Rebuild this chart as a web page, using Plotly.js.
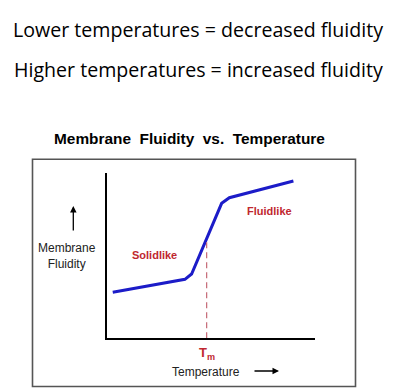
<!DOCTYPE html>
<html>
<head>
<meta charset="utf-8">
<script src="https://cdn.plot.ly/plotly-3.0.1.min.js"></script>
<style>html,body{margin:0;padding:0;background:#fff;}#chart{width:404px;height:391px;}</style>
</head>
<body>
<div id="chart"></div>
<script>
// Data (arbitrary units, 0-100 on both axes)
const curveTemp = [2.9, 37.5, 40.7, 55.1, 58.8, 89.5];
const curveFluidity = [27.8, 35.6, 38.8, 81.5, 84.9, 95.0];
const tmTemp = [47.9, 47.9];
const tmFluidity = [0, 60.3];
const headline1 = "Lower temperatures = decreased fluidity";
const headline2 = "Higher temperatures = increased fluidity";
const chartTitle = "Membrane\u00a0\u00a0Fluidity\u00a0\u00a0vs.\u00a0\u00a0Temperature";
const phaseLabels = ["Solidlike", "Fluidlike"];
const phaseLabelTemp = [23, 78];
const phaseLabelFluidity = [50.5, 77];

const W = 404, H = 391;
const px = v => v / W;
const py = v => (H - v) / H;

const traces = [
  {x: curveTemp, y: curveFluidity, mode: 'lines', line: {color: '#1c1cc8', width: 3}, hoverinfo: 'skip'},
  {x: tmTemp, y: tmFluidity, mode: 'lines', line: {color: '#c8707c', width: 1.3, dash: '6px,4px'}, hoverinfo: 'skip'}
];

const red = '#c0282f';
const annotations = [
  {text: headline1, xref: 'paper', yref: 'paper', x: px(197.5), y: py(29), showarrow: false,
   font: {family: 'Open Sans, sans-serif', size: 19.6, color: '#000'}, xanchor: 'center', yanchor: 'middle'},
  {text: headline2, xref: 'paper', yref: 'paper', x: px(198), y: py(70), showarrow: false,
   font: {family: 'Open Sans, sans-serif', size: 19.6, color: '#000'}, xanchor: 'center', yanchor: 'middle'},
  {text: '<b>' + chartTitle + '</b>', xref: 'paper', yref: 'paper', x: px(189.5), y: py(138), showarrow: false,
   font: {family: 'Liberation Sans, Arial, sans-serif', size: 15.4, color: '#000'}, xanchor: 'center', yanchor: 'middle'},
  {text: '<b>' + phaseLabels[0] + '</b>', x: phaseLabelTemp[0], y: phaseLabelFluidity[0], showarrow: false,
   font: {family: 'Liberation Sans, Arial, sans-serif', size: 11, color: red}},
  {text: '<b>' + phaseLabels[1] + '</b>', x: phaseLabelTemp[1], y: phaseLabelFluidity[1], showarrow: false,
   font: {family: 'Liberation Sans, Arial, sans-serif', size: 11, color: red}},
  {text: '<b>T<sub>m</sub></b>', xref: 'paper', yref: 'paper', x: px(207), y: py(353), showarrow: false,
   font: {family: 'Liberation Sans, Arial, sans-serif', size: 13, color: red}, xanchor: 'center', yanchor: 'middle'},
  {text: 'Temperature', xref: 'paper', yref: 'paper', x: px(206), y: py(372), showarrow: false,
   font: {family: 'Liberation Sans, Arial, sans-serif', size: 12, color: '#222'}, xanchor: 'center', yanchor: 'middle'},
  {text: 'Membrane<br>Fluidity', xref: 'paper', yref: 'paper', x: px(67), y: py(256), showarrow: false,
   font: {family: 'Liberation Sans, Arial, sans-serif', size: 12, color: '#222'}, xanchor: 'center', yanchor: 'middle', align: 'center'},
  {text: '', xref: 'paper', yref: 'paper', x: px(73.3), y: py(206), ax: 0, ay: 26, showarrow: true,
   arrowhead: 2, arrowsize: 1, arrowwidth: 1.3, arrowcolor: '#000'},
  {text: '', xref: 'paper', yref: 'paper', x: px(279), y: py(371), ax: -26, ay: 0, showarrow: true,
   arrowhead: 2, arrowsize: 1, arrowwidth: 1.3, arrowcolor: '#000'}
];

const layout = {
  width: W, height: H,
  margin: {l: 0, r: 0, t: 0, b: 0},
  paper_bgcolor: '#fff', plot_bgcolor: 'rgba(0,0,0,0)',
  showlegend: false,
  xaxis: {domain: [px(106.7), px(315.3)], range: [0, 100], showgrid: false, zeroline: false,
          showticklabels: false, ticks: '', showline: true, linecolor: '#000', linewidth: 2, fixedrange: true},
  yaxis: {domain: [py(338.3), py(172.7)], range: [0, 100], showgrid: false, zeroline: false,
          showticklabels: false, ticks: '', showline: true, linecolor: '#000', linewidth: 2, fixedrange: true},
  shapes: [
    {type: 'rect', xref: 'paper', yref: 'paper', x0: px(32.5), x1: px(355.5), y0: py(386.5), y1: py(159.3),
     line: {color: '#555', width: 1.6}, layer: 'below'}
  ],
  annotations: annotations
};

Plotly.newPlot('chart', traces, layout, {displayModeBar: false, staticPlot: true});
</script>
</body>
</html>
